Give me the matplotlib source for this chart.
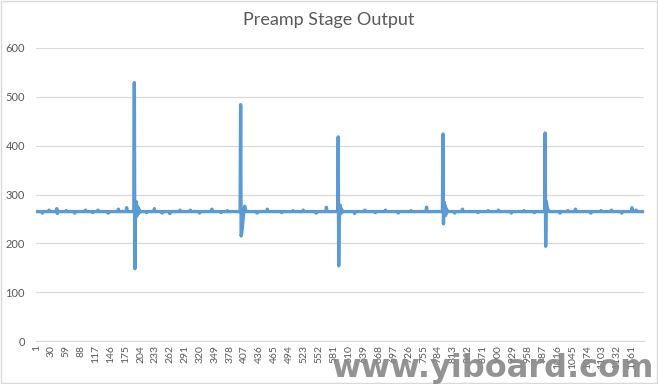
import numpy as np
import matplotlib.pyplot as plt

plt.rcParams['font.family'] = ['Lato', 'DejaVu Sans']

# samples in the record and the resting level of the output
n_samples = 1184
baseline = 265

# small bumps on the baseline: (sample index, value)
bumps = [(12, 262), (25, 268), (40, 271), (41, 261), (58, 267), (75, 262), (96, 268),
         (110, 263), (120, 268), (140, 262), (160, 270), (176, 273), (215, 263),
         (230, 271), (245, 262), (260, 261), (280, 268), (300, 268), (318, 262),
         (342, 270), (360, 263), (372, 267), (430, 262), (450, 270), (478, 263),
         (500, 267), (520, 268), (545, 262), (565, 274), (620, 261), (640, 268),
         (660, 263), (680, 268), (705, 262), (730, 267), (760, 274), (815, 262),
         (830, 270), (860, 263), (880, 267), (900, 268), (925, 262), (950, 267),
         (970, 263), (1020, 262), (1035, 267), (1050, 270), (1080, 262), (1100, 267),
         (1120, 268), (1140, 262), (1160, 273), (1168, 268)]

# spikes: start index and the sample values that follow it
spike_starts = [191, 398, 588, 792, 991]
spike_values = [
    [529, 148, 270, 255, 285, 256, 276, 260, 272, 262, 268],
    [484, 215, 220, 230, 242, 252, 262, 272, 276, 271, 266],
    [418, 154, 276, 258, 278, 262, 271, 263, 267],
    [424, 240, 285, 260, 278, 257, 272, 262, 268],
    [426, 194, 286, 280, 274, 270, 268, 266],
]

y = np.full(n_samples, baseline, dtype=float)
for i, v in bumps:
    y[i] = v
for s, vals in zip(spike_starts, spike_values):
    y[s:s + len(vals)] = vals

x = np.arange(n_samples)
tick_pos = np.arange(0, n_samples, 29)
tick_labels = [str(i + 1) for i in tick_pos]

fig = plt.figure(figsize=(6.58, 3.84), dpi=100)
ax = fig.add_axes([36 / 658, 43 / 384, 608 / 658, 293 / 384])

ax.plot(x, y, color='#5B9BD5', linewidth=2.4, solid_joinstyle='round')

ax.set_xlim(-0.5, n_samples - 0.5)
ax.set_ylim(0, 600)
ax.set_yticks(range(0, 601, 100))
ax.set_xticks(tick_pos)
ax.set_xticklabels(tick_labels, rotation=90, fontsize=7.5, color='#595959')
ax.tick_params(axis='y', labelsize=8, labelcolor='#595959', length=0, pad=8)
ax.tick_params(axis='x', length=0, pad=3)
ax.grid(axis='y', color='#D9D9D9', linewidth=0.9)
ax.set_axisbelow(True)
for side in ['top', 'right', 'left']:
    ax.spines[side].set_visible(False)
ax.spines['bottom'].set_color('#D9D9D9')

fig.text(0.5, 1 - 20 / 384, 'Preamp Stage Output', ha='center', va='center',
         fontsize=13, color='#595959')

# chart border
fig.patches.append(plt.Rectangle((0.002, 0.003), 0.996, 0.994, transform=fig.transFigure,
                                 fill=False, edgecolor='#D9D9D9', linewidth=1))

# watermark
fig.text(654 / 658, 1 - 369 / 384, 'www.yiboard.com', ha='right', va='center',
         fontsize=23, fontweight='heavy', color='#8A8A8A', alpha=0.92,
         family=['DejaVu Sans'])

fig.savefig('out.png', dpi=100)
